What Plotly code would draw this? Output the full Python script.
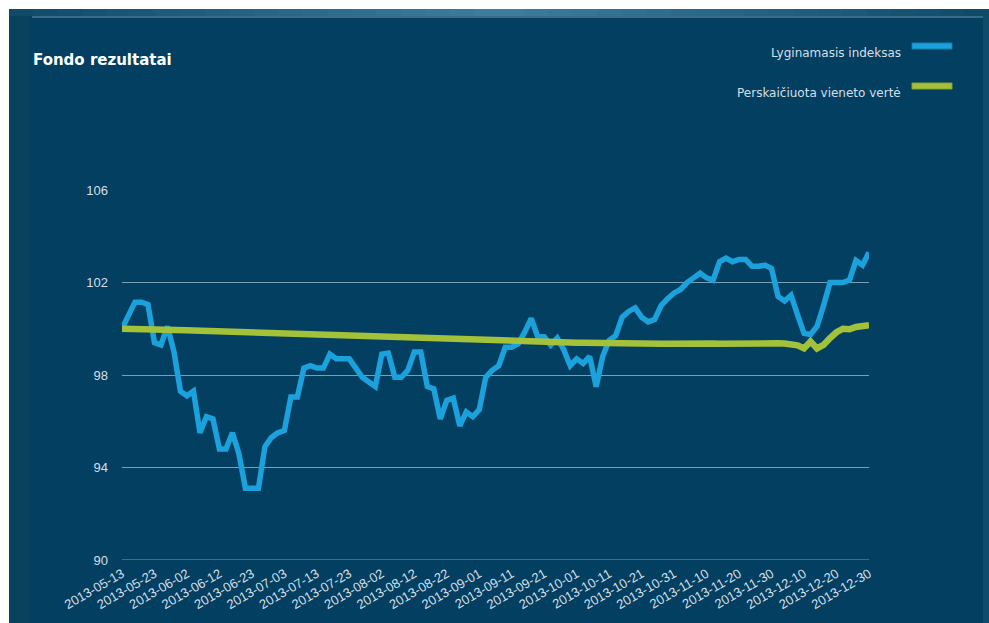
import numpy as np
import plotly.graph_objects as go

tick_labels = ["2013-05-13", "2013-05-23", "2013-06-02", "2013-06-12", "2013-06-23",
               "2013-07-03", "2013-07-13", "2013-07-23", "2013-08-02", "2013-08-12",
               "2013-08-22", "2013-09-01", "2013-09-11", "2013-09-21", "2013-10-01",
               "2013-10-11", "2013-10-21", "2013-10-31", "2013-11-10", "2013-11-20",
               "2013-11-30", "2013-12-10", "2013-12-20", "2013-12-30"]

index_values = [
    100.0, 100.6, 101.15, 101.15, 101.05, 99.4, 99.3, 100.1, 99.0, 97.3,
    97.1, 97.3, 95.5, 96.2, 96.1, 94.8, 94.8, 95.5, 94.6, 93.1,
    93.1, 93.1, 94.9, 95.3, 95.5, 95.6, 97.05, 97.05, 98.3, 98.4,
    98.3, 98.3, 98.9, 98.7, 98.7, 98.7, 98.3, 97.9, 97.7, 97.5,
    98.9, 98.95, 97.9, 97.9, 98.2, 99.0, 99.0, 97.5, 97.4, 96.1,
    96.9, 97.0, 95.8, 96.4, 96.2, 96.5, 97.9, 98.2, 98.4, 99.2,
    99.2, 99.35, 99.85, 100.45, 99.65, 99.65, 99.3, 99.6, 99.1, 98.4,
    98.7, 98.5, 98.8, 97.5, 98.8, 99.5, 99.7, 100.5, 100.75, 100.9,
    100.5, 100.3, 100.4, 101.0, 101.3, 101.55, 101.7, 102.0, 102.2, 102.4,
    102.2, 102.1, 102.9, 103.05, 102.9, 103.0, 103.0, 102.7, 102.7, 102.75,
    102.6, 101.4, 101.2, 101.45, 100.6, 99.8, 99.75, 100.1, 101.0, 102.0,
    102.0, 102.0, 102.1, 102.95, 102.75, 103.3]

nav_values = [
    100.0, 100.0, 100.0, 100.0, 99.98, 99.97, 99.96, 99.95, 99.95, 99.94,
    99.93, 99.92, 99.91, 99.9, 99.9, 99.89, 99.88, 99.87, 99.86, 99.85,
    99.85, 99.84, 99.83, 99.82, 99.81, 99.8, 99.8, 99.79, 99.78, 99.77,
    99.76, 99.75, 99.74, 99.73, 99.72, 99.71, 99.7, 99.69, 99.68, 99.67,
    99.66, 99.65, 99.64, 99.62, 99.61, 99.6, 99.59, 99.58, 99.57, 99.56,
    99.55, 99.54, 99.53, 99.52, 99.51, 99.5, 99.49, 99.48, 99.47, 99.46,
    99.45, 99.45, 99.44, 99.43, 99.43, 99.42, 99.42, 99.41, 99.41, 99.4,
    99.4, 99.4, 99.39, 99.39, 99.38, 99.38, 99.38, 99.37, 99.37, 99.37,
    99.36, 99.36, 99.35, 99.35, 99.35, 99.36, 99.36, 99.35, 99.35, 99.36,
    99.37, 99.36, 99.35, 99.36, 99.37, 99.37, 99.38, 99.38, 99.38, 99.38,
    99.37, 99.37, 99.36, 99.33, 99.28, 99.15, 99.45, 99.15, 99.3, 99.6,
    99.85, 100.0, 99.98, 100.08, 100.1, 100.15]

series_names = ["Lyginamasis indeksas", "Perskaičiuota vieneto vertė"]
y_ticks = [90, 94, 98, 102, 106]

BG = "#033f61"
BLUE = "#1ba2dc"
GREEN = "#a4c13a"
GRID = "#7d9db3"
TXT = "#d5dfe7"

x = np.arange(len(index_values)) * 0.2

fig = go.Figure()
fig.add_trace(go.Scatter(x=x, y=index_values, mode="lines", name=series_names[0],
                         line=dict(color=BLUE, width=5.5), showlegend=False))
fig.add_trace(go.Scatter(x=x[:len(nav_values)], y=nav_values, mode="lines", name=series_names[1],
                         line=dict(color=GREEN, width=6.5), showlegend=False))

W, H = 989, 623
L, R, T, B = 122, 120, 190, 63
pw, ph = W - L - R, H - T - B


def px(xp):
    return (xp - L) / pw


def py(yp):
    return (H - B - yp) / ph


def prect(x0, x1, y0, y1, color, layer="below", line=None):
    return dict(type="rect", xref="paper", yref="paper", x0=px(x0), x1=px(x1),
                y0=py(y1), y1=py(y0), fillcolor=color, layer=layer,
                line=line if line else dict(width=0))


def mix(c1, c2, t):
    a = [int(c1[i:i + 2], 16) for i in (1, 3, 5)]
    b = [int(c2[i:i + 2], 16) for i in (1, 3, 5)]
    return "#" + "".join(f"{round(a[i] + (b[i] - a[i]) * t):02x}" for i in range(3))


shapes = [
    prect(0, W, 0, H, "white"),
    prect(9, W, 9, H, BG),
    prect(9, 30, 9, H, "#07425f"),
    prect(983, W, 9, H, "#0f4b6a"),
]
# top gradient band (light in the middle)
n_steps = 40
edge_c, mid_c = "#0f4a69", "#3f7e9e"
for i in range(n_steps):
    a = 9 + (W - 9) * i / n_steps
    b_ = 9 + (W - 9) * (i + 1) / n_steps
    centre = (a + b_) / 2
    t = max(0.0, 1 - abs(centre - 500) / 480)
    shapes.append(prect(a, b_ + 0.5, 9, 16, mix(edge_c, mid_c, t)))
shapes += [
    dict(type="line", xref="paper", yref="paper", x0=px(32), x1=px(983), y0=py(17), y1=py(17),
         line=dict(color="#6f98b2", width=1.2), layer="below"),
    dict(type="line", xref="paper", yref="y", x0=0, x1=1, y0=y_ticks[0], y1=y_ticks[0],
         line=dict(color=GRID, width=1), layer="below"),
    prect(912, 952, 43, 49, BLUE, layer="above", line=dict(color="#157fb0", width=1)),
    prect(912, 952, 83, 89, GREEN, layer="above", line=dict(color="#86a02c", width=1)),
]

annotations = [
    dict(text="<b>Fondo rezultatai</b>", xref="paper", yref="paper", x=px(31), y=py(60),
         xanchor="left", yanchor="middle", showarrow=False,
         font=dict(family="DejaVu Sans", size=15, color="white")),
    dict(text=series_names[0], xref="paper", yref="paper", x=px(903), y=py(53),
         xanchor="right", yanchor="middle", showarrow=False,
         font=dict(family="DejaVu Sans", size=12, color=TXT)),
    dict(text=series_names[1], xref="paper", yref="paper", x=px(903), y=py(93),
         xanchor="right", yanchor="middle", showarrow=False,
         font=dict(family="DejaVu Sans", size=12, color=TXT)),
]

fig.update_layout(
    width=W, height=H,
    margin=dict(l=L, r=R, t=T, b=B, pad=0),
    paper_bgcolor=BG, plot_bgcolor="rgba(0,0,0,0)",
    shapes=shapes, annotations=annotations,
    showlegend=False,
    font=dict(family="Liberation Sans, Arial", color=TXT),
    xaxis=dict(range=[0, len(tick_labels) - 1], tickmode="array",
               tickvals=list(range(len(tick_labels))), ticktext=tick_labels,
               tickangle=-30, showgrid=False, zeroline=False, showline=False,
               tickfont=dict(size=13, color=TXT), ticks="", ticklabelstandoff=3),
    yaxis=dict(range=[90, 106], tickmode="array", tickvals=y_ticks,
               showgrid=True, gridcolor=GRID, gridwidth=1, zeroline=False, showline=False,
               tickfont=dict(size=13, color=TXT), ticks="", ticklabelstandoff=13),
)

fig.write_html("out.html", config={"displayModeBar": False},
               post_script="document.body.style.margin='0px';")
